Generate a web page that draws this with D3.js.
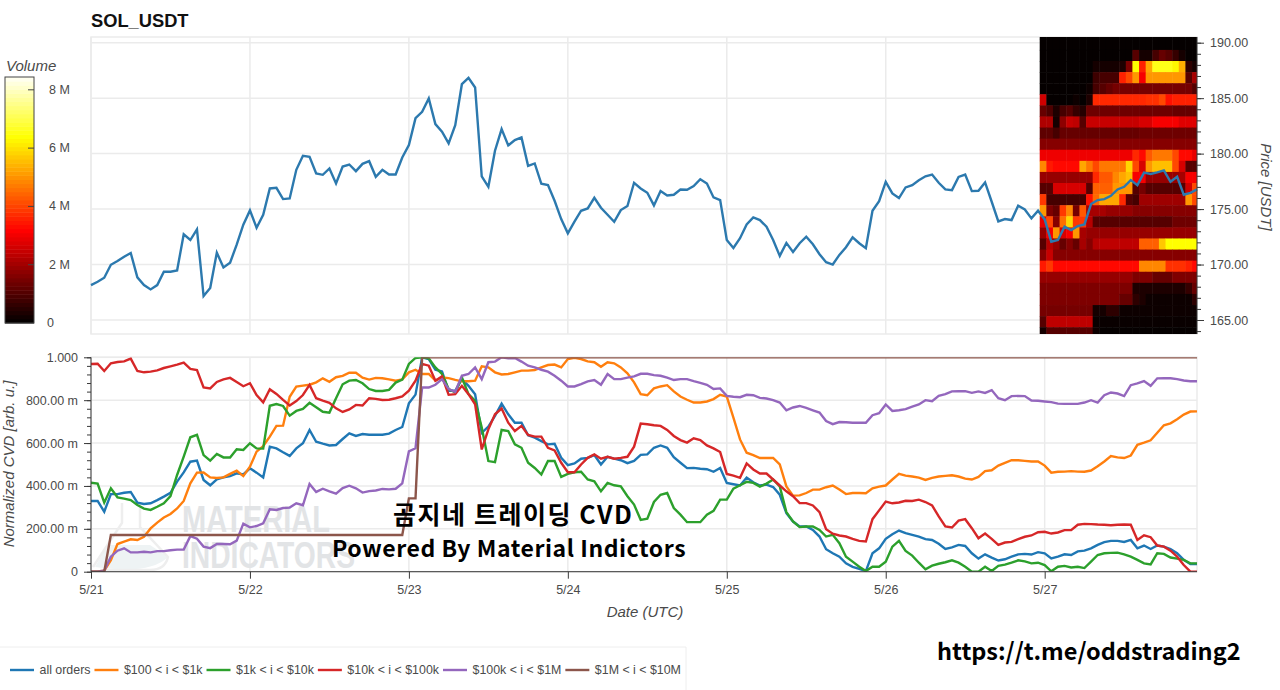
<!DOCTYPE html>
<html>
<head>
<meta charset="utf-8">
<script src="https://cdn.jsdelivr.net/npm/d3@7"></script>
<style>
body { margin: 0; background: #fff; }
svg { display: block; font-family: "Liberation Sans", Arial, sans-serif; }
.ax text { font-size: 12.5px; fill: #4a4a4a; font-family: "Liberation Sans", Arial, sans-serif; }
.ax line, .ax path { stroke: #3a3a3a; }
.title { font-size: 15px; font-style: italic; fill: #4a4a4a; }
.over { font-family: "Noto Sans CJK KR", "Noto Sans", sans-serif; font-weight: 700; fill: #000; }
</style>
</head>
<body>
<svg width="1280" height="690"></svg>
<script>
// hourly values, one line per day (5/21 .. 5/27)
var priceValues = [
168.15,168.45,168.81,169.98,170.32,170.71,171.04,168.84,168.15,167.76,168.15,169.35,169.35,169.47,172.72,172.21,173.17,167.16,167.88,171.07,169.74,170.17,171.79,173.59,
174.88,173.32,174.49,176.86,176.92,175.90,175.96,178.54,179.8,179.71,178.21,178.09,178.66,177.31,178.84,179.02,178.42,179.08,179.32,177.91,178.54,178.12,178.12,179.65,
180.77,183.2,183.77,184.97,182.66,181.97,180.92,182.57,186.26,186.83,185.96,177.94,177.01,180.26,182.21,180.74,181.22,181.46,178.9,179.11,177.28,177.16,175.75,174.1,
172.81,173.86,174.85,175.06,176.02,175.12,174.49,173.86,174.91,175.27,177.37,176.86,176.47,175.33,176.62,176.23,176.29,176.77,176.74,177.07,177.69,177.31,176.05,175.81,
172.22,171.5,172.37,173.62,174.25,174.01,173.41,172.22,170.78,171.95,171.14,171.92,172.51,171.83,170.93,170.21,170.0,170.87,171.56,172.46,171.92,171.47,174.85,175.72,
177.46,176.41,175.99,176.95,177.16,177.6,177.96,178.11,177.37,176.77,176.71,177.9,178.11,176.62,176.65,177.4,175.66,173.89,174.1,174.01,175.3,174.97,174.16,174.85,
174.07,172.06,172.21,173.41,173.11,173.47,173.62,175.45,175.81,175.9,176.2,176.77,177.01,177.61,177.16,178.28,178.16,178.31,178.49,177.46,177.91,176.29,176.47,176.77];

var cvdAll = [
330,330,280,362,362,368,372,322,316,319,334,350,368,420,463,513,518,428,403,431,440,446,459,454,
482,462,440,583,575,557,540,575,599,661,606,597,589,591,619,645,633,642,639,639,639,644,661,675,
785,826,1000,992,942,934,844,844,898,867,828,648,677,727,784,734,695,695,636,625,609,594,597,531,
497,505,527,531,544,500,536,527,520,506,517,545,547,578,589,578,534,508,483,484,480,478,466,484,
414,408,402,439,417,402,406,395,359,273,234,211,211,195,164,105,86,70,39,23,13,3,86,109,
153,175,192,180,172,164,152,148,130,106,113,125,120,86,61,81,66,52,58,70,81,83,80,91,
86,62,70,81,78,95,98,109,125,138,144,144,139,148,109,122,106,122,117,105,86,55,36,36];

var cvd100 = [
0,0,5,54,129,140,151,148,163,202,229,253,269,295,330,412,462,463,440,437,440,456,471,446,
490,560,586,630,680,681,816,863,868,872,883,902,886,907,913,928,928,905,896,904,902,897,891,897,
930,942,922,922,891,906,903,895,888,888,891,958,953,930,920,922,930,938,938,941,953,964,966,953,
992,998,992,981,977,956,977,972,953,925,883,828,823,855,864,870,841,817,802,789,789,794,805,825,
817,719,617,555,544,530,530,531,500,398,355,356,367,383,383,394,402,383,362,367,367,366,389,397,
402,430,456,448,444,439,428,438,444,447,450,444,434,430,442,469,473,495,508,520,520,517,514,514,
495,462,466,467,469,467,466,472,492,514,539,533,530,542,592,602,613,648,683,692,711,733,747,748];

var cvd1k = [
415,411,322,389,347,341,334,311,294,288,303,319,353,451,537,627,638,544,518,549,533,533,571,568,
599,575,574,774,782,773,728,750,759,788,767,746,742,809,874,891,894,879,852,843,843,848,882,896,
969,997,1000,995,953,922,852,836,906,828,797,672,516,511,661,656,594,578,508,484,453,516,516,442,
456,464,466,430,422,375,414,403,398,352,313,242,247,325,359,367,297,266,231,231,231,266,284,336,
336,387,403,419,414,397,411,430,398,278,234,208,211,211,195,164,172,133,70,47,23,3,23,23,
47,117,144,97,75,42,11,28,37,44,53,42,23,0,0,23,3,27,33,42,53,48,39,42,
31,2,23,27,20,23,17,47,78,86,88,89,81,70,55,39,34,86,83,66,61,55,39,39];

var cvd10k = [
969,970,936,972,978,981,994,936,930,933,939,950,958,966,975,946,941,860,855,885,897,904,885,865,
879,824,790,851,829,801,775,796,824,871,809,798,788,762,745,757,778,775,809,806,801,802,809,818,
844,891,969,961,891,911,825,828,867,828,781,570,664,734,761,695,656,680,638,630,630,578,566,508,
464,464,500,531,547,527,536,527,531,536,583,691,688,683,680,661,633,614,602,622,614,589,575,558,
456,448,438,505,477,458,458,430,402,375,352,320,320,309,278,198,177,169,164,153,144,141,245,286,
327,319,323,331,330,336,325,309,258,211,206,238,245,203,156,178,153,125,136,139,152,163,169,184,
186,178,183,194,194,219,223,222,220,219,217,219,220,219,148,170,161,122,117,98,70,31,0,0];

var cvd100k = [
0,0,5,70,98,109,90,90,93,90,96,96,100,103,103,166,154,117,110,129,129,128,145,224,
207,213,226,291,288,297,299,319,310,409,372,387,375,364,390,401,389,369,376,379,386,384,387,412,
561,576,859,859,872,898,852,839,914,922,953,898,977,980,1000,995,997,980,961,953,942,933,914,891,
864,864,875,888,894,872,922,898,898,905,911,923,923,917,914,905,894,898,898,889,881,872,852,855,
820,816,814,825,823,811,808,800,789,753,766,773,764,753,742,703,688,698,697,695,695,695,730,739,
780,750,753,758,770,780,800,795,820,828,841,842,842,834,841,834,847,809,800,819,820,819,798,797,
794,791,784,783,783,783,789,800,789,823,836,831,819,870,878,889,867,902,903,902,898,892,888,888];

var cvd1m = [
0,0,0,171,171,171,171,171,171,171,171,171,171,171,171,171,171,171,171,171,171,171,171,171,
171,171,171,171,171,171,171,171,171,171,171,171,171,171,171,171,171,171,171,171,171,171,171,171,
342,342,1000,1000,1000,1000,1000,1000,1000,1000,1000,1000,1000,1000,1000,1000,1000,1000,1000,1000,1000,1000,1000,1000,
1000,1000,1000,1000,1000,1000,1000,1000,1000,1000,1000,1000,1000,1000,1000,1000,1000,1000,1000,1000,1000,1000,1000,1000,
1000,1000,1000,1000,1000,1000,1000,1000,1000,1000,1000,1000,1000,1000,1000,1000,1000,1000,1000,1000,1000,1000,1000,1000,
1000,1000,1000,1000,1000,1000,1000,1000,1000,1000,1000,1000,1000,1000,1000,1000,1000,1000,1000,1000,1000,1000,1000,1000,
1000,1000,1000,1000,1000,1000,1000,1000,1000,1000,1000,1000,1000,1000,1000,1000,1000,1000,1000,1000,1000,1000,1000,1000];

var seriesNames = ['all orders', '$100 < i < $1k', '$1k < i < $10k', '$10k < i < $100k', '$100k < i < $1M', '$1M < i < $10M'];
var seriesValues = [cvdAll, cvd100, cvd1k, cvd10k, cvd100k, cvd1m];

// volume per price row (low edge of the row) and per hour, in millions
var heatLows = [190.35,189.35,188.35,187.35,186.35,185.35,184.35,183.35,182.35,181.35,180.35,179.35,178.35,177.35,176.35,175.35,174.35,173.35,172.35,171.35,170.35,169.35,168.35,167.35,166.35,165.35,164.35,163.35];
var heatVolumes = [
[0,0,0,0,0,0,0,0,0,0,0,0,0,0,0,0,0,0,0,0,0,0,0,0],
[0,0,0,0,0,0,0,0,0,0,0,0,0,0,0,0,0,0,0,0,0,0,0,0],
[0,0,0,0,0,0,0,0,0,0,0,0,0,0,1,.2,.2,.8,1.2,1,.6,.2,0,0],
[0,0,0,0,0,0,0,0,.2,.2,.2,.2,.3,1.5,6.3,3.5,5.2,6.5,6.5,6.5,6.2,5.3,.5,.2],
[0,0,0,0,0,0,0,0,.7,.8,.8,.8,3.5,4,5,3,5,5,5,5,5,5,1,2],
[0,0,0,0,0,0,0,.1,.8,1,1.2,1.4,1.4,1.4,1.4,1.4,1.4,1.4,1.4,1.4,1.4,1.4,1.4,1],
[2.5,0,0,0,0,.1,0,.3,3.6,3.6,3.6,3.6,3.6,3.6,3.6,3.6,3.7,3.7,4,3.3,3.5,3.5,3.5,3.5],
[1.2,.9,.3,.8,1,.6,.4,1.3,1.3,1.3,1.3,1.3,1.3,1.3,1.3,1.3,1.3,1.3,1.3,1.3,1.2,1.2,1.2,1.2],
[2.1,2.1,.2,1.7,2.4,2.3,1,2.4,2.4,2.4,2.4,2.4,2.4,2.4,2.4,2.6,2.6,3,3,3,3,2.7,2.7,2.7],
[1.1,1.1,.8,1.2,1.2,1.2,1.2,1.2,1.2,1.2,1.2,1.2,1.2,1.2,1.2,1.3,1.3,1.3,1.3,1.3,1.3,1.3,1.3,1.3],
[1.6,1.6,1.6,1.6,1.6,1.6,1.6,1.6,1.6,1.6,1.6,1.6,1.6,1.6,1.6,1.6,1.6,1.6,1.6,1.6,1.6,1.6,1.6,1.6],
[2.9,2.9,2.9,2.9,2.9,2.9,2.9,2.9,2.9,2.9,2.9,2.9,2.9,2.9,3.6,3.2,4.2,4.6,4.6,4.6,4,3.2,3.2,2.8],
[4.8,3.4,3.2,3.2,3.2,3.2,5.2,4.6,4,4.6,4.6,4.6,4.6,5.8,4,2.6,5,5.5,5.5,5.5,4,2.6,1,1],
[1.8,1.8,1.8,1.8,1.8,1.8,1.8,1.8,3.6,4.2,4.2,4.8,5.2,5.5,3,3,1.8,1.8,1.8,1.8,1.8,2,3,3],
[1,1,2.6,2.6,2.6,2.6,2.6,1,4.3,4.3,4.3,5,5,5,1,1.4,1,1,1,1,1,1,2.5,4],
[3.8,.8,.8,.8,.8,.8,.8,3.3,4.4,5.2,5.2,5.2,3.6,1,.8,1.9,1.9,1.9,1.9,1.9,1.9,1.9,5,4],
[5,1.5,1.2,3.8,4.8,1.4,4.2,2,2,2,1.8,1.8,1.8,1.8,1.6,1.6,1.6,1.6,1.6,1.6,1.6,1.6,1.6,1.6],
[2.8,4,1.6,4.5,5.8,3.8,3.8,2.2,1,1,1,1,1,1,1,1,1,1,1,1,1.3,1.3,1.3,1.3],
[1.8,3,5,2.6,3,5,2,1.8,1.8,1.8,1.8,1.8,1.8,1.8,1.8,1.8,1.8,1.8,1.8,1.8,1.8,1.8,1.8,1.8],
[1,2.2,1.8,1.2,1.6,1.2,2,1.6,2.2,2.3,2.3,2.3,2.3,2.3,2.3,4.3,4.3,4.3,5.6,6.3,6.3,6.3,6.3,6.3],
[1.6,2.4,1.6,1.6,1.6,1.6,1.6,1.6,1.6,1.6,1.6,1.6,1.6,1.6,1.6,1.6,1.6,1.6,1.6,1.6,1.6,1.6,1.6,1.6],
[3.4,3.8,3.2,3.2,3.2,3.2,3.2,3.2,3.2,3.2,3.2,3.2,3.2,3.2,3.2,4.8,4.8,4.8,4.8,3.7,3.7,3.7,3.5,3.2],
[1.8,1.8,1.8,1.8,1.8,1.8,1.8,1.8,1.8,1.8,1.8,1.8,1.8,1.8,1.5,1.5,1.5,1.2,1.2,1.2,1.5,1.5,1.5,1.5],
[1.5,1.5,1.5,1.5,1.5,1.5,1.5,1.5,1.5,1.5,1.5,1.5,1.5,1.5,.3,.3,.3,.3,.3,.3,.3,.3,.6,1.2],
[1.5,1.5,1.5,1.5,1.5,1.5,1.5,1.5,1.5,1.5,1.5,1.5,1.2,1.2,.5,.3,.1,.1,.1,.1,.1,.1,.1,.5],
[1.4,1.4,1.4,1.4,1.4,1.4,1.4,1.4,.2,.2,.5,.5,.1,.1,.1,.1,.1,.1,.1,.1,.1,.1,.1,.1],
[1,2.3,2.3,2.3,2.3,2.3,2.3,2.3,.05,.05,.05,.05,.05,.05,.05,.05,.05,.05,.05,.05,.05,.05,.05,.05],
[.2,1,1,1,1,1,1,1,.1,0,0,0,0,0,0,0,0,0,0,0,0,0,0,0]];

var priceTicks = [165, 170, 175, 180, 185, 190];
var priceMinor = d3.range(164, 191);
var cvdTicks = [0, 200, 400, 600, 800, 1000];
var cvdLabels = ['0', '200.00 m', '400.00 m', '600.00 m', '800.00 m', '1.000'];
var cvdMinor = d3.range(0, 1001, 40);
var volumeTicks = [0, 2, 4, 6, 8];
var volumeLabels = ['0', '2 M', '4 M', '6 M', '8 M'];
var dayTicks = d3.range(7).map(function (d) { return new Date(Date.UTC(2024, 4, 21 + d)); });

var hours = priceValues.map(function (d, i) { return new Date(Date.UTC(2024, 4, 21, i)); });
var heatStart = 143.25;

var svg = d3.select('svg');
var left = 91, right = 1197;

var x = d3.scaleUtc().domain([hours[0], hours[167]]).range([left, right]);
var yPrice = d3.scaleLinear().domain([165, 190]).range([320, 42.7]);
var yCvd = d3.scaleLinear().domain([0, 1000]).range([571.7, 357.3]);
var yVol = d3.scaleLinear().domain([0, 8.44]).range([323, 77]);
var hot = d3.scaleLinear().domain([0, 3.1, 6.3, 8.44]).range(['#050000', '#ff0000', '#ffff00', '#ffffff']);
var gridColor = '#ebebeb';

var defs = svg.append('defs');
defs.append('clipPath').attr('id', 'topClip').append('rect')
    .attr('x', left).attr('y', 37).attr('width', right - left).attr('height', 297);
defs.append('clipPath').attr('id', 'cvdClip').append('rect')
    .attr('x', left).attr('y', 357.3).attr('width', right - left).attr('height', 214.4);

function frame(top, bottom) {
    svg.append('rect').attr('x', left).attr('y', top).attr('width', right - left).attr('height', bottom - top)
        .attr('fill', 'none').attr('stroke', gridColor).attr('stroke-width', 1.5);
}

function grid(top, bottom, scale, ticks) {
    svg.selectAll(null).data(dayTicks).enter().append('line')
        .attr('x1', function (d) { return x(d); }).attr('x2', function (d) { return x(d); })
        .attr('y1', top).attr('y2', bottom)
        .attr('stroke', gridColor).attr('stroke-width', 1.5);
    svg.selectAll(null).data(ticks).enter().append('line')
        .attr('x1', left).attr('x2', right)
        .attr('y1', function (d) { return scale(d); }).attr('y2', function (d) { return scale(d); })
        .attr('stroke', gridColor).attr('stroke-width', 1.5);
}

// top panel
svg.append('text').text('SOL_USDT').attr('x', 91).attr('y', 27)
    .attr('font-size', 18.3).attr('font-weight', 'bold').attr('fill', '#111');
frame(37, 334);
grid(37, 334, yPrice, priceTicks);

var heatG = svg.append('g').attr('clip-path', 'url(#topClip)');
heatVolumes.forEach(function (row, r) {
    heatG.selectAll(null).data(row).enter().append('rect')
        .attr('x', function (d, k) { return x(new Date(+hours[0] + (heatStart + k) * 3600e3)); })
        .attr('width', x(new Date(+hours[0] + 3600e3)) - left + 0.5)
        .attr('y', yPrice(heatLows[r] + 1))
        .attr('height', yPrice(heatLows[r]) - yPrice(heatLows[r] + 1) + 0.5)
        .attr('fill', function (d) { return hot(d); });
});

var priceLine = d3.line().x(function (d, i) { return x(hours[i]); }).y(function (d) { return yPrice(d); });
svg.append('path').datum(priceValues).attr('d', priceLine)
    .attr('fill', 'none').attr('stroke', '#2c79ae').attr('stroke-width', 2.4);

var priceAxis = svg.append('g').attr('class', 'ax').attr('transform', 'translate(' + right + ',0)')
    .call(d3.axisRight(yPrice).tickValues(priceTicks).tickSize(7).tickPadding(6).tickFormat(d3.format('.2f')));
priceAxis.select('.domain').attr('d', 'M0,37V334');
svg.append('g').attr('class', 'ax').attr('transform', 'translate(' + right + ',0)')
    .call(d3.axisRight(yPrice).tickValues(priceMinor).tickSize(4).tickFormat(''))
    .select('.domain').remove();
svg.append('text').attr('class', 'title').text('Price [USDT]')
    .attr('transform', 'translate(1261,187) rotate(90)').attr('text-anchor', 'middle');

// colour bar
var barSteps = d3.range(0, 8.44, 8.44 / 60);
svg.selectAll(null).data(barSteps).enter().append('rect')
    .attr('x', 5).attr('width', 29)
    .attr('y', function (d) { return yVol(d + 8.44 / 60); })
    .attr('height', 246 / 60 + 0.5)
    .attr('fill', function (d) { return hot(d); });
svg.append('rect').attr('x', 5).attr('y', 77).attr('width', 29).attr('height', 246)
    .attr('fill', 'none').attr('stroke', '#444');
svg.append('text').attr('class', 'title').text('Volume').attr('x', 6).attr('y', 71);
svg.selectAll(null).data(volumeTicks.slice(1)).enter().append('line')
    .attr('x1', 28).attr('x2', 34)
    .attr('y1', function (d) { return yVol(d); }).attr('y2', function (d) { return yVol(d); })
    .attr('stroke', '#444');
svg.selectAll(null).data(volumeTicks).enter().append('text')
    .text(function (d, i) { return volumeLabels[i]; })
    .attr('x', function (d) { return d == 0 ? 47 : 49; })
    .attr('y', function (d) { return yVol(d) + 4; })
    .attr('font-size', 12.5).attr('fill', '#4a4a4a');

// bottom panel
frame(357.3, 571.7);
grid(357.3, 571.7, yCvd, cvdTicks);

// watermark
var mark = svg.append('g');
mark.append('path').attr('d', 'M95,567 Q150,575 168,557 L150,545 L108,545 Z').attr('fill', '#eef3f4');
mark.append('path').attr('d', 'M122,503 V523 L93,567 M140,503 V527 L168,557 Q165,570 150,570 L100,570')
    .attr('fill', 'none').attr('stroke', '#eeeeee').attr('stroke-width', 2.5);
mark.append('text').text('MATERIAL').attr('x', 182).attr('y', 532)
    .attr('font-size', 37).attr('font-weight', 'bold').attr('fill', '#e2e4e6')
    .attr('textLength', 148).attr('lengthAdjust', 'spacingAndGlyphs');
mark.append('text').text('INDICATORS').attr('x', 182).attr('y', 568)
    .attr('font-size', 37).attr('font-weight', 'bold').attr('fill', '#e2e4e6')
    .attr('textLength', 173).attr('lengthAdjust', 'spacingAndGlyphs');

var cvdLine = d3.line().x(function (d, i) { return x(hours[i]); }).y(function (d) { return yCvd(d); });
var colors = d3.schemeCategory10.slice(0, 6);
var cvdG = svg.append('g').attr('clip-path', 'url(#cvdClip)');
seriesValues.forEach(function (values, s) {
    cvdG.append('path').datum(values).attr('d', cvdLine)
        .attr('fill', 'none').attr('stroke', colors[s]).attr('stroke-width', 2.4);
});

var xAxis = svg.append('g').attr('class', 'ax').attr('transform', 'translate(0,571.7)')
    .call(d3.axisBottom(x).tickValues(dayTicks).tickSize(7).tickPadding(6).tickFormat(d3.utcFormat('%-m/%-d')));
xAxis.select('.domain').attr('d', 'M' + left + ',0H' + right);
var cvdAxis = svg.append('g').attr('class', 'ax').attr('transform', 'translate(' + left + ',0)')
    .call(d3.axisLeft(yCvd).tickValues(cvdTicks).tickSize(7).tickPadding(6)
        .tickFormat(function (d, i) { return cvdLabels[i]; }));
cvdAxis.select('.domain').attr('d', 'M0,357.3V571.7');
svg.append('g').attr('class', 'ax').attr('transform', 'translate(' + left + ',0)')
    .call(d3.axisLeft(yCvd).tickValues(cvdMinor).tickSize(4).tickFormat(''))
    .select('.domain').remove();
svg.append('text').attr('class', 'title').text('Normalized CVD [arb. u.]')
    .attr('transform', 'translate(14,464) rotate(-90)').attr('text-anchor', 'middle');
svg.append('text').attr('class', 'title').text('Date (UTC)')
    .attr('x', 645).attr('y', 617).attr('text-anchor', 'middle');

// legend
svg.append('path').attr('d', 'M0,647H686V690').attr('fill', 'none').attr('stroke', '#eeeeee');
var legendX = 10;
seriesNames.forEach(function (name, s) {
    svg.append('line').attr('x1', legendX).attr('x2', legendX + 24).attr('y1', 670).attr('y2', 670)
        .attr('stroke', colors[s]).attr('stroke-width', 2.4);
    var label = svg.append('text').text(name).attr('x', legendX + 29.5).attr('y', 674)
        .attr('font-size', 12.4).attr('fill', '#4a4a4a');
    legendX += 29.5 + label.node().getComputedTextLength() + 4;
});

// text put over the chart
svg.append('text').attr('class', 'over').text('곰지네 트레이딩 CVD')
    .attr('x', 393).attr('y', 524).attr('font-size', 25).attr('letter-spacing', 1.55);
svg.append('text').attr('class', 'over').text('Powered By Material Indictors')
    .attr('x', 332).attr('y', 557).attr('font-size', 23).attr('letter-spacing', 0.55);
svg.append('text').attr('class', 'over').text('https://t.me/oddstrading2')
    .attr('x', 937).attr('y', 660).attr('font-size', 23.5);
</script>
</body>
</html>
